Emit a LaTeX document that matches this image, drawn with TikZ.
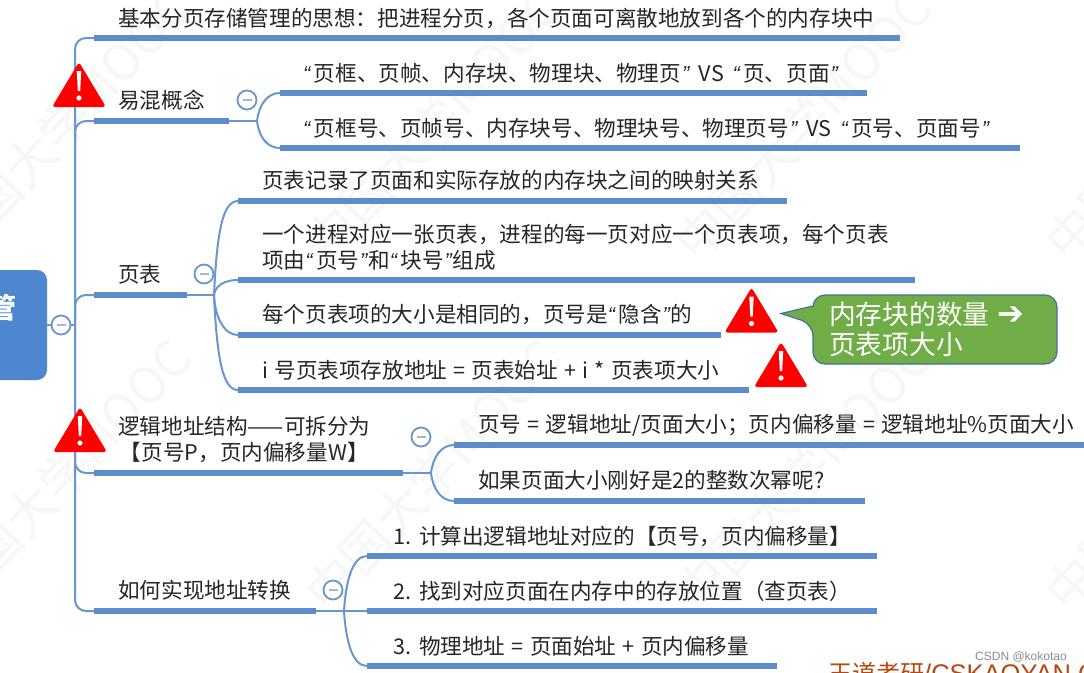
\documentclass[tikz,border=0pt]{standalone}
\usepackage{fontspec}
\setmainfont[WordSpace=1.3]{Noto Sans CJK SC}
\newfontfamily\latf{Liberation Sans}
\newfontfamily\symf{DejaVu Sans}
\newcommand{\ql}{{\latf\textit{“}}\kern2.5pt}
\newcommand{\qr}{\kern1pt{\latf\textit{”}}}
\definecolor{barblue}{HTML}{5B8CCB}
\definecolor{thinblue}{HTML}{6A96CE}
\definecolor{rootblue}{HTML}{4F86D0}
\definecolor{minusgrey}{HTML}{A9B6CE}
\definecolor{callfill}{HTML}{70AD47}
\definecolor{callline}{HTML}{41719C}
\definecolor{wmgrey}{HTML}{F7F7F7}
\definecolor{footred}{HTML}{B8460E}
\tikzset{
  x=1pt,y=-1pt,
  lab/.style={anchor=west,inner sep=0pt,text=black!85,font=\fontsize{21.6}{25.5}\selectfont,align=left},
  bar/.style={draw=barblue,line width=5.5pt},
  thin/.style={draw=thinblue,line width=2pt},
  toggle/.style={circle,draw=thinblue,line width=1.8pt,fill=white,minimum size=19pt,inner sep=0pt},
  watermark/.style={text=wmgrey,font=\fontsize{50}{50}\selectfont,rotate=47,inner sep=0pt},
  warnsign/.pic={
    \fill[red,rounded corners=3pt] (-27,22) -- (0,-23) -- (27,22) -- cycle;
    \fill[white] (-2.2,-14) -- (2.2,-14) -- (1.2,6) -- (-1.2,6) -- cycle;
    \fill[white] (0,13) circle (2.6);
  }
}
\begin{document}
\begin{tikzpicture}
\useasboundingbox (0,0) rectangle (1084,672);
\clip (0,0) rectangle (1084,672);
\fill[white] (0,0) rectangle (1084,672);
% watermarks
\node[watermark] (wm1) at (63,125) {中国大学MOOC};
\node[watermark] (wm2) at (433,125) {中国大学MOOC};
\node[watermark] (wm3) at (803,125) {中国大学MOOC};
\node[watermark] (wm4) at (1173,125) {中国大学MOOC};
\node[watermark] (wm5) at (63,475) {中国大学MOOC};
\node[watermark] (wm6) at (433,475) {中国大学MOOC};
\node[watermark] (wm7) at (803,475) {中国大学MOOC};
\node[watermark] (wm8) at (1173,475) {中国大学MOOC};
% root
\node[fill=rootblue,rounded corners=10pt,minimum width=70pt,minimum height=110pt,inner sep=0pt] (root) at (12,325) {};
\node[text=white,inner sep=0pt,font=\fontsize{28}{28}\selectfont\bfseries] (roottext) at (3,308) {管};
\coordinate (hub) at (75,325);
% main branches
\coordinate (a1) at (94,38);  \coordinate (a1e) at (900,38);
\coordinate (a2) at (94,121); \coordinate (a2e) at (229,121);
\coordinate (a3) at (94,295); \coordinate (a3e) at (187,295);
\coordinate (a4) at (94,473); \coordinate (a4e) at (403,473);
\coordinate (a5) at (94,611); \coordinate (a5e) at (316,611);
\draw[thin] (root.east |- hub) -- (hub);
\foreach \n in {a1,a2,a3,a4,a5}{
  \draw[thin,rounded corners=11pt] (\n) -| (hub);
  \draw[bar] (\n) -- (\n e);
}
% junctions
\coordinate (j2) at (257,121);
\coordinate (j3) at (214,295);
\coordinate (j4) at (431,473);
\coordinate (j5) at (344,611);
\draw[thin] (a2e) -- (j2);
\draw[thin] (a3e) -- (j3);
\draw[thin] (a4e) -- (j4);
\draw[thin] (a5e) -- (j5);
% children of 易混概念
\coordinate (c21) at (280,93);  \coordinate (c21e) at (867,93);
\coordinate (c22) at (280,148); \coordinate (c22e) at (1020,148);
\draw[thin] (j2) .. controls +(2,-16) and +(-13,0) .. (c21);
\draw[thin] (j2) .. controls +(2,16) and +(-13,0) .. (c22);
\draw[bar] (c21) -- (c21e);
\draw[bar] (c22) -- (c22e);
% children of 页表
\coordinate (c31) at (238,201); \coordinate (c31e) at (787,201);
\coordinate (c32) at (238,280); \coordinate (c32e) at (915,280);
\coordinate (c33) at (238,335); \coordinate (c33e) at (721,335);
\coordinate (c34) at (238,390); \coordinate (c34e) at (749,390);
\draw[thin] (j3) .. controls +(3,-65) and +(-15,0) .. (c31);
\draw[thin] (j3) .. controls +(1,-9) and +(-14,0) .. (c32);
\draw[thin] (j3) .. controls +(1,22) and +(-14,0) .. (c33);
\draw[thin] (j3) .. controls +(3,65) and +(-15,0) .. (c34);
\draw[bar] (c31) -- (c31e);
\draw[bar] (c32) -- (c32e);
\draw[bar] (c33) -- (c33e);
\draw[bar] (c34) -- (c34e);
% children of 逻辑地址结构
\coordinate (c41) at (454,445); \coordinate (c41e) at (1084,445);
\coordinate (c42) at (454,501); \coordinate (c42e) at (865,501);
\draw[thin] (j4) .. controls +(2,-16) and +(-13,0) .. (c41);
\draw[thin] (j4) .. controls +(2,16) and +(-13,0) .. (c42);
\draw[bar] (c41) -- (c41e);
\draw[bar] (c42) -- (c42e);
% children of 如何实现地址转换
\coordinate (c51) at (367,556); \coordinate (c51e) at (877,556);
\coordinate (c52) at (367,611); \coordinate (c52e) at (877,611);
\coordinate (c53) at (367,666); \coordinate (c53e) at (777,666);
\draw[thin] (j5) .. controls +(2,-32) and +(-14,0) .. (c51);
\draw[thin] (j5) -- (c52);
\draw[thin] (j5) .. controls +(2,32) and +(-14,0) .. (c53);
\draw[bar] (c51) -- (c51e);
\draw[bar] (c52) -- (c52e);
\draw[bar] (c53) -- (c53e);
% toggles
\foreach \nm/\px/\py in {t1/61/325,t2/247/100,t3/204/274,t4/421/437,t5/333/590}{
  \node[toggle] (\nm) at (\px,\py) {};
  \draw[minusgrey,line width=1.6pt] ([xshift=-4.5pt]\nm.center) -- ([xshift=4.5pt]\nm.center);
}
% labels
\node[lab] (l1) at (118,18) {基本分页存储管理的思想：把进程分页，各个页面可离散地放到各个的内存块中};
\node[lab] (l2) at (118,100) {易混概念};
\node[lab] (l21) at (303,73) {\ql 页框、页帧、内存块、物理块、物理页\qr{}\kern2.5pt{} VS \kern2.5pt\ql 页、页面\qr};
\node[lab] (l22) at (303,128) {\ql 页框号、页帧号、内存块号、物理块号、物理页号\qr{}\kern2.5pt{} VS \kern2.5pt\ql 页号、页面号\qr};
\node[lab] (l3) at (118,274) {页表};
\node[lab] (l31) at (262,180) {页表记录了页面和实际存放的内存块之间的映射关系};
\node[lab] (l32) at (262,247.5) {一个进程对应一张页表，进程的每一页对应一个页表项，每个页表\\项由\ql 页号\qr 和\ql 块号\qr 组成};
\node[lab] (l33) at (262,315) {每个页表项的大小是相同的，页号是\ql 隐含\qr 的};
\node[lab] (l34) at (262,370) {i 号页表项存放地址 = 页表始址 + i * 页表项大小};
\node[lab,align=center] (l4) at (118,439.5) {逻辑地址结构——可拆分为\\【页号P，页内偏移量W】};
\node[lab] (l41) at (478,425) {页号 = 逻辑地址/页面大小；页内偏移量 = 逻辑地址\%页面大小};
\node[lab] (l42) at (478,480) {如果页面大小刚好是2的整数次幂呢?};
\node[lab] (l5) at (118,590) {如何实现地址转换};
\node[lab] (l51) at (393,536) {1. 计算出逻辑地址对应的【页号，页内偏移量】};
\node[lab] (l52) at (393,591) {2. 找到对应页面在内存中的存放位置（查页表）};
\node[lab] (l53) at (393,646) {3. 物理地址 = 页面始址 + 页内偏移量};
% warnings
\pic at (79,85) {warnsign};
\pic at (80,430) {warnsign};
\pic at (751.5,310.5) {warnsign};
\pic at (781,365) {warnsign};
% callout
\draw[fill=callfill,draw=callline,line width=1.2pt,rounded corners=12pt]
  (813,295) -- (1057,295) -- (1057,364) -- (813,364) -- (813,324) [sharp corners] -- (781,313.5) -- (813,306) [rounded corners=12pt] -- cycle;
\node[anchor=north west,inner sep=0pt,text=white,align=left,font=\fontsize{26.7}{30}\selectfont] (call) at (829,302) {内存块的数量 {\symf\bfseries\fontsize{32}{30}\selectfont ➔}\\页表项大小};
% footer
\node[anchor=base west,inner sep=0pt,text=footred,font=\fontsize{24}{24}\selectfont] (foot) at (828,682) {王道考研{\latf\fontsize{25.5}{25.5}\selectfont /CSKAOYAN.COM}};
\node[anchor=west,inner sep=0pt,text=black!45,font=\latf\fontsize{12}{12}\selectfont] (csdn) at (975,657) {CSDN @kokotao};
\end{tikzpicture}
\end{document}
